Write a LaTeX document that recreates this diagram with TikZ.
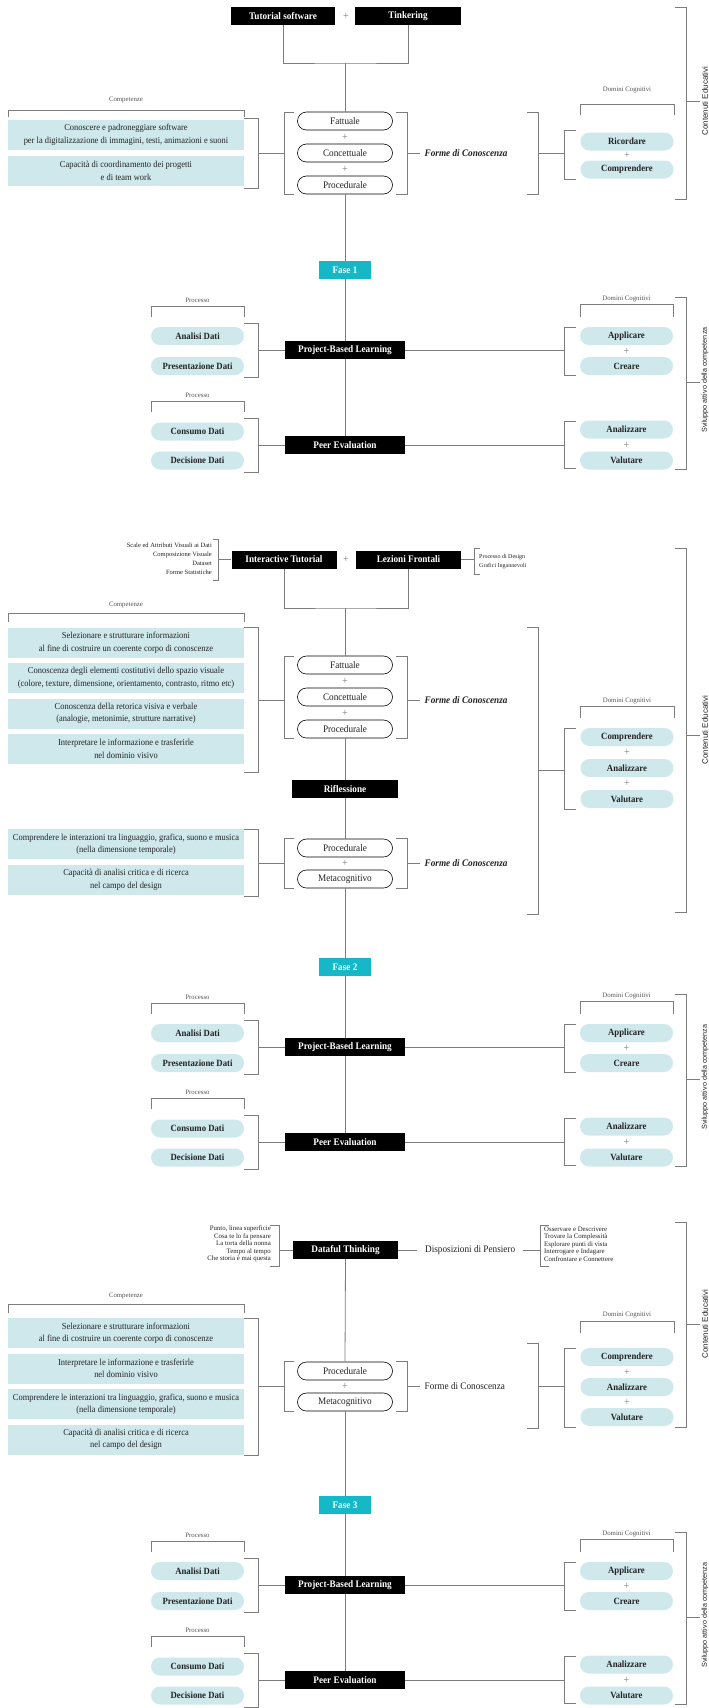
\documentclass[tikz,border=0pt]{standalone}
\usepackage{fontspec}
\setmainfont[FakeStretch=0.92]{Liberation Serif}
\newfontfamily\smallserif{Liberation Serif}
\newfontfamily\vsans{Liberation Sans}
\definecolor{cyanl}{RGB}{206,232,236}
\definecolor{faseC}{RGB}{22,184,200}
\definecolor{lineC}{RGB}{125,125,125}
\definecolor{txt}{RGB}{35,35,35}
\definecolor{lab}{RGB}{85,85,85}
\tikzset{
 ln/.style={draw=lineC, line width=0.8pt},
 blk/.style={fill=black, text=white, font=\bfseries\fontsize{10}{12}\selectfont, minimum height=18pt, inner sep=0pt},
 fase/.style={fill=faseC, text=white, font=\bfseries\fontsize{10}{12}\selectfont, minimum width=52pt, minimum height=18pt, inner sep=0pt},
 cbox/.style={fill=cyanl, text=txt, minimum width=236pt, minimum height=30pt, inner sep=0pt, align=center, font=\fontsize{9.2}{12.5}\selectfont},
 cpill/.style={fill=cyanl, text=txt, rounded corners=9pt, minimum width=93pt, minimum height=18pt, inner sep=0pt, font=\bfseries\fontsize{9.5}{11}\selectfont},
 wpill/.style={draw=black, line width=0.6pt, fill=white, text=txt, rounded corners=9pt, minimum width=95pt, minimum height=18pt, inner sep=0pt, font=\fontsize{10}{12}\selectfont},
 plus/.style={text=lineC, font=\fontsize{11}{11}\selectfont, inner sep=0pt},
 tiny/.style={text=lab, font=\smallserif\fontsize{6.8}{8}\selectfont, inner sep=0pt},
 forme/.style={anchor=west, inner xsep=4.5pt, inner ysep=0pt, text=txt, font=\bfseries\itshape\fontsize{10}{12}\selectfont},
 plain/.style={anchor=west, inner xsep=4.5pt, inner ysep=0pt, text=txt, font=\fontsize{10}{12}\selectfont},
 vlab/.style={rotate=90, inner sep=0pt, text=txt, font=\vsans\fontsize{8}{9}\selectfont},
 vlabs/.style={rotate=90, inner sep=0pt, text=txt, font=\vsans\fontsize{7.2}{8}\selectfont},
 lst/.style={inner sep=0pt, text=txt},
}
% side bracket: inner x, outer x, top y, bottom y
\newcommand\mybrk[4]{\draw[ln] (#1,#3) -- (#2,#3) -- (#2,#4) -- (#1,#4);}
% top bracket: x1, x2, line y, tick end y
\newcommand\mytbrk[4]{\draw[ln] (#1,#4) -- (#1,#3) -- (#2,#3) -- (#2,#4);}
\newcommand\phaseblock[3]{%
\begin{scope}[shift={(0,#2)}]
 \node[fase] (#1fase) at (345,0) {Fase #3};
 \node[tiny] (#1proclab) at (197.5,30) {Processo};
 \mytbrk{151}{244}{36}{47}
 \node[cpill] (#1ad) at (197.5,66) {Analisi Dati};
 \node[cpill] (#1pd) at (197.5,96) {Presentazione Dati};
 \mybrk{244}{258}{53}{107}
 \coordinate (#1lb) at (258,80);
 \node[blk,minimum width=120pt] (#1pbl) at (345,80) {Project-Based Learning};
 \coordinate (#1rb) at (564,80);
 \mybrk{576}{564}{57}{105}
 \node[tiny] (#1domlab) at (626.5,29) {Domini Cognitivi};
 \mytbrk{580}{673}{34}{47}
 \node[cpill] (#1app) at (626.5,66) {Applicare};
 \node[plus] (#1pla) at (626.5,81) {+};
 \node[cpill] (#1cre) at (626.5,96) {Creare};
 \mybrk{675}{686}{27}{199}
 \coordinate (#1bb) at (686,112);
 \coordinate (#1bt) at (700,112);
 \node[vlabs] (#1vl) at (705,110) {Sviluppo attivo della competenza};
 \node[tiny] (#1proclabb) at (197.5,125) {Processo};
 \mytbrk{151}{244}{131}{142}
 \node[cpill] (#1cd) at (197.5,161.5) {Consumo Dati};
 \node[cpill] (#1dd) at (197.5,190.5) {Decisione Dati};
 \mybrk{244}{258}{148}{202}
 \coordinate (#1lc) at (258,175);
 \node[blk,minimum width=120pt] (#1peer) at (345,175) {Peer Evaluation};
 \coordinate (#1rc) at (564,175);
 \mybrk{576}{564}{151}{198}
 \node[cpill] (#1an) at (626.5,159.5) {Analizzare};
 \node[plus] (#1plb) at (626.5,175) {+};
 \node[cpill] (#1va) at (626.5,190.5) {Valutare};
 \draw[ln] (#1lb) -- (#1pbl.west);
 \draw[ln] (#1pbl.east) -- (#1rb);
 \draw[ln] (#1lc) -- (#1peer.west);
 \draw[ln] (#1peer.east) -- (#1rc);
 \draw[ln] (#1bb) -- (#1bt);
 \draw[ln] (#1fase.south) -- (#1pbl.north);
 \draw[ln] (#1pbl.south) -- (#1peer.north);
\end{scope}}
\begin{document}
\begin{tikzpicture}[x=1pt,y=-1pt]
\useasboundingbox (0,0) rectangle (709,1708);
\fill[white] (0,0) rectangle (709,1708);
%================ SECTION 1
\node[blk, minimum width=104pt] (tut) at (283,16) {Tutorial software};
\node[plus] (tplus) at (346,16) {+};
\node[blk, minimum width=106pt] (tin) at (408,16) {Tinkering};
\coordinate (j1) at (345,63);
\draw[ln] (tut.south) |- (j1) -| (tin.south);
\node[tiny] (c1lab) at (126,100) {Competenze};
\mytbrk{8}{244}{110}{117}
\node[cbox] (c1a) at (126,135) {Conoscere e padroneggiare software\\per la digitalizzazione di immagini, testi, animazioni e suoni};
\node[cbox] (c1b) at (126,171) {Capacità di coordinamento dei progetti\\e di team work};
\mybrk{244}{258}{118}{188}
\coordinate (l1) at (258,153);
\node[wpill] (fat1) at (345,121) {Fattuale};
\node[plus] (p1a) at (345,137) {+};
\node[wpill] (con1) at (345,153) {Concettuale};
\node[plus] (p1b) at (345,169) {+};
\node[wpill] (pro1) at (345,185) {Procedurale};
\mybrk{294}{284}{112}{194}
\mybrk{396}{407}{112}{194}
\coordinate (g1l) at (284,153);
\coordinate (g1r) at (407,153);
\draw[ln] (l1) -- (g1l);
\node[forme] (fo1) at (420,153) {Forme di Conoscenza};
\draw[ln] (g1r) -- (fo1.west);
\mybrk{527}{538}{112}{194}
\coordinate (r1a) at (538,153);
\coordinate (r1b) at (564,153);
\draw[ln] (r1a) -- (r1b);
\mybrk{576}{564}{130}{179}
\node[tiny] (d1lab) at (627,90) {Domini Cognitivi};
\mytbrk{580}{674}{104}{115}
\node[cpill] (ric1) at (627,141.5) {Ricordare};
\node[plus] (p1c) at (627,155.5) {+};
\node[cpill] (com1) at (627,169.5) {Comprendere};
\mybrk{675}{686}{7}{199}
\coordinate (B1a) at (686,101);
\coordinate (B1b) at (700,101);
\draw[ln] (B1a) -- (B1b);
\node[vlab] (V1) at (705,101) {Contenuti Educativi};
\draw[ln] (j1) -- (fat1.north);
%================ PHASE 1
\phaseblock{fa}{270}{1}
\draw[ln] (pro1.south) -- (fafase.north);
%================ SECTION 2
\node[blk,minimum width=105pt] (itut) at (284,559.5) {Interactive Tutorial};
\node[plus] (p2t) at (346,559.5) {+};
\node[blk,minimum width=105pt] (lez) at (408.5,559.5) {Lezioni Frontali};
\node[lst, anchor=east, align=right, font=\smallserif\fontsize{6.5}{9}\selectfont] (ls2) at (212,558.5) {Scale ed Attributi Visuali ai Dati\\Composizione Visuale\\Dataset\\Forme Statistiche};
\mybrk{213}{218}{539}{580}
\coordinate (ls2b) at (218,559.5);
\draw[ln] (ls2b) -- (itut.west);
\node[lst, anchor=west, align=left, font=\smallserif\fontsize{6}{9}\selectfont] (rs2) at (479,561.5) {Processo di Design\\Grafici Ingannevoli};
\mybrk{480}{474}{548}{574}
\coordinate (rs2b) at (474,559.5);
\draw[ln] (lez.east) -- (rs2b);
\coordinate (j2) at (345,608);
\draw[ln] (itut.south) |- (j2) -| (lez.south);
\node[tiny] (c2lab) at (126,605) {Competenze};
\mytbrk{8}{244}{613}{622}
\node[cbox] (c2a) at (126,642.5) {Selezionare e strutturare informazioni\\al fine di costruire un coerente corpo di conoscenze};
\node[cbox] (c2b) at (126,678) {Conoscenza degli elementi costitutivi dello spazio visuale\\(colore, texture, dimensione, orientamento, contrasto, ritmo etc)};
\node[cbox] (c2c) at (126,713.5) {Conoscenza della retorica visiva e verbale\\(analogie, metonimie, strutture narrative)};
\node[cbox] (c2d) at (126,749) {Interpretare le informazione e trasferirle\\nel dominio visivo};
\mybrk{244}{258}{627}{772}
\coordinate (l2) at (258,700);
\node[wpill] (fat2) at (345,665) {Fattuale};
\node[plus] (p2a) at (345,681) {+};
\node[wpill] (con2) at (345,697) {Concettuale};
\node[plus] (p2b) at (345,713) {+};
\node[wpill] (pro2) at (345,729) {Procedurale};
\mybrk{294}{284}{656}{738}
\mybrk{396}{407}{656}{738}
\coordinate (g2l) at (284,700);
\coordinate (g2r) at (407,700);
\draw[ln] (l2) -- (g2l);
\node[forme] (fo2) at (420,700) {Forme di Conoscenza};
\draw[ln] (g2r) -- (fo2.west);
\mybrk{527}{538}{627}{914}
\coordinate (r2a) at (538,770);
\coordinate (r2b) at (564,770);
\draw[ln] (r2a) -- (r2b);
\mybrk{576}{564}{728}{809}
\node[tiny] (d2lab) at (627,701) {Domini Cognitivi};
\mytbrk{580}{674}{706}{718}
\node[cpill] (com2) at (627,737) {Comprendere};
\node[plus] (p2c) at (627,752.5) {+};
\node[cpill] (ana2) at (627,768) {Analizzare};
\node[plus] (p2d) at (627,783.5) {+};
\node[cpill] (val2) at (627,799) {Valutare};
\mybrk{675}{686}{548}{912}
\coordinate (B2a) at (686,735);
\coordinate (B2b) at (700,735);
\draw[ln] (B2a) -- (B2b);
\node[vlab] (V2) at (705,730) {Contenuti Educativi};
\node[blk,minimum width=106pt] (rif) at (345,789) {Riflessione};
\node[cbox] (c2e) at (126,844) {Comprendere le interazioni tra linguaggio, grafica, suono e musica\\(nella dimensione temporale)};
\node[cbox] (c2f) at (126,880) {Capacità di analisi critica e di ricerca\\nel campo del design};
\mybrk{244}{258}{829}{896}
\coordinate (l2b) at (258,863);
\node[wpill] (pro2b) at (345,848) {Procedurale};
\node[plus] (p2e) at (345,863.5) {+};
\node[wpill] (met2) at (345,879) {Metacognitivo};
\mybrk{294}{284}{838}{888}
\mybrk{396}{407}{838}{888}
\coordinate (g2bl) at (284,863);
\coordinate (g2br) at (407,863);
\draw[ln] (l2b) -- (g2bl);
\node[forme] (fo2b) at (420,863) {Forme di Conoscenza};
\draw[ln] (g2br) -- (fo2b.west);
\draw[ln] (j2) -- (fat2.north);
\draw[ln] (pro2.south) -- (rif.north);
\draw[ln] (rif.south) -- (pro2b.north);
%================ PHASE 2
\phaseblock{fb}{967}{2}
\draw[ln] (met2.south) -- (fbfase.north);
%================ SECTION 3
\node[blk,minimum width=105pt] (dat) at (345.5,1250) {Dataful Thinking};
\node[lst, anchor=east, align=right, font=\smallserif\fontsize{6.8}{7.5}\selectfont] (ls3) at (271,1244) {Punto, linea superficie\\Cosa te lo fa pensare\\La torta della nonna\\Tempo al tempo\\Che storia è mai questa};
\mybrk{270}{279}{1225}{1266}
\coordinate (ls3b) at (279,1250);
\draw[ln] (ls3b) -- (dat.west);
\node[plain, inner xsep=8pt] (disp) at (417,1250) {Disposizioni di Pensiero};
\draw[ln] (dat.east) -- (disp.west);
\coordinate (rs3b) at (540,1250);
\draw[ln] (disp.east) -- (rs3b);
\node[lst, anchor=west, align=left, font=\smallserif\fontsize{6.8}{7.5}\selectfont] (rs3) at (544,1244) {Osservare e Descrivere\\Trovare la Complessità\\Esplorare punti di vista\\Interrogare e Indagare\\Confrontare e Connettere};
\mybrk{549}{540}{1225}{1266}
\node[tiny] (c3lab) at (126,1296) {Competenze};
\mytbrk{8}{244}{1304}{1313}
\node[cbox] (c3a) at (126,1333) {Selezionare e strutturare informazioni\\al fine di costruire un coerente corpo di conoscenze};
\node[cbox] (c3b) at (126,1368.5) {Interpretare le informazione e trasferirle\\nel dominio visivo};
\node[cbox] (c3c) at (126,1404) {Comprendere le interazioni tra linguaggio, grafica, suono e musica\\(nella dimensione temporale)};
\node[cbox] (c3d) at (126,1439.5) {Capacità di analisi critica e di ricerca\\nel campo del design};
\mybrk{244}{258}{1318}{1455}
\coordinate (l3) at (258,1386);
\node[wpill] (pro3) at (345,1371) {Procedurale};
\node[plus] (p3a) at (345,1386.5) {+};
\node[wpill] (met3) at (345,1402) {Metacognitivo};
\mybrk{294}{284}{1361}{1411}
\mybrk{396}{407}{1361}{1411}
\coordinate (g3l) at (284,1386);
\coordinate (g3r) at (407,1386);
\draw[ln] (l3) -- (g3l);
\node[plain] (fo3) at (420,1386) {Forme di Conoscenza};
\draw[ln] (g3r) -- (fo3.west);
\mybrk{527}{538}{1343}{1428}
\coordinate (r3a) at (538,1386);
\coordinate (r3b) at (564,1386);
\draw[ln] (r3a) -- (r3b);
\mybrk{576}{564}{1348}{1427}
\node[tiny] (d3lab) at (627,1315) {Domini Cognitivi};
\mytbrk{580}{674}{1321}{1333}
\node[cpill] (com3) at (627,1357) {Comprendere};
\node[plus] (p3b) at (627,1372) {+};
\node[cpill] (ana3) at (627,1387) {Analizzare};
\node[plus] (p3c) at (627,1402) {+};
\node[cpill] (val3) at (627,1417) {Valutare};
\mybrk{675}{686}{1222}{1427}
\coordinate (B3a) at (686,1324);
\coordinate (B3b) at (700,1324);
\draw[ln] (B3a) -- (B3b);
\node[vlab] (V3) at (705,1324) {Contenuti Educativi};
\draw[ln] (dat.south) -- (pro3.north);
%================ PHASE 3
\phaseblock{fc}{1505}{3}
\draw[ln] (met3.south) -- (fcfase.north);
\end{tikzpicture}
\end{document}
